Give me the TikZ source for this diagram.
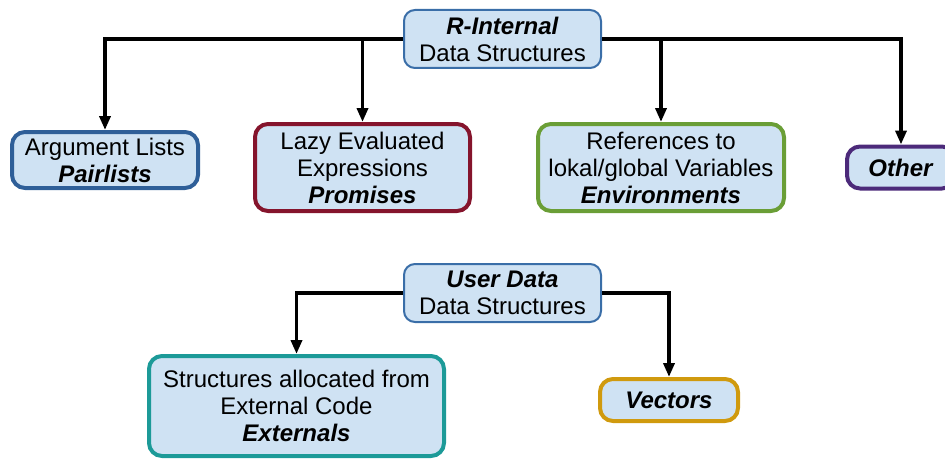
\documentclass[tikz,border=0pt]{standalone}
\usepackage{fontspec}
\setmainfont{Liberation Sans}
\usetikzlibrary{arrows.meta}
\definecolor{boxfill}{HTML}{CFE2F3}
\definecolor{rootline}{HTML}{3A6EA8}
\definecolor{argline}{HTML}{2F5F98}
\definecolor{lazyline}{HTML}{85142C}
\definecolor{refline}{HTML}{6A9E36}
\definecolor{otherline}{HTML}{4C2A7A}
\definecolor{extline}{HTML}{1C9A98}
\definecolor{vecline}{HTML}{D09A0E}
\tikzset{
  every node/.style={font=\fontsize{24}{27}\selectfont, align=center, inner sep=0pt},
  rootbox/.style={draw=rootline, line width=2pt, fill=boxfill, rounded corners=11pt},
  leafbox/.style={fill=boxfill, line width=4pt, rounded corners=13pt},
  link/.style={line width=3.5pt, -{Triangle[length=14pt,width=11pt]}},
}
\newcommand{\bi}[1]{\textbf{\textit{#1}}}
\begin{document}
\begin{tikzpicture}[x=1pt,y=-1pt]
\useasboundingbox (0,0) rectangle (945,460);

% R-internal structures
\node[rootbox, minimum width=197pt, minimum height=58pt] (rint) at (502.5,39) {\bi{R-Internal}\\Data Structures};
\node[leafbox, draw=argline, minimum width=186pt, minimum height=56pt] (arg) at (105,160) {Argument Lists\\\bi{Pairlists}};
\node[leafbox, draw=lazyline, minimum width=215pt, minimum height=87pt] (lazy) at (362.5,167.5) {Lazy Evaluated\\Expressions\\\bi{Promises}};
\node[leafbox, draw=refline, minimum width=246pt, minimum height=87pt] (env) at (661,167.5) {References to\\lokal/global Variables\\\bi{Environments}};
\node[leafbox, draw=otherline, minimum width=108pt, minimum height=42pt] (other) at (901,167.5) {\bi{Other}};

\draw[link] (rint.west) -| (arg.north);
\draw[link] (rint.east) -| (other.north);
\draw[link] (lazy.north |- rint.west) -- (lazy.north);
\draw[link] (env.north |- rint.east) -- (env.north);

% user data structures
\node[rootbox, minimum width=197pt, minimum height=58pt] (user) at (502.5,293) {\bi{User Data}\\Data Structures};
\node[leafbox, draw=extline, minimum width=295pt, minimum height=100pt] (ext) at (296.5,406) {Structures allocated from\\External Code\\\bi{Externals}};
\node[leafbox, draw=vecline, minimum width=138pt, minimum height=42pt] (vec) at (669,400) {\bi{Vectors}};

\draw[link] (user.west) -| (ext.north);
\draw[link] (user.east) -| (vec.north);
\end{tikzpicture}
\end{document}
